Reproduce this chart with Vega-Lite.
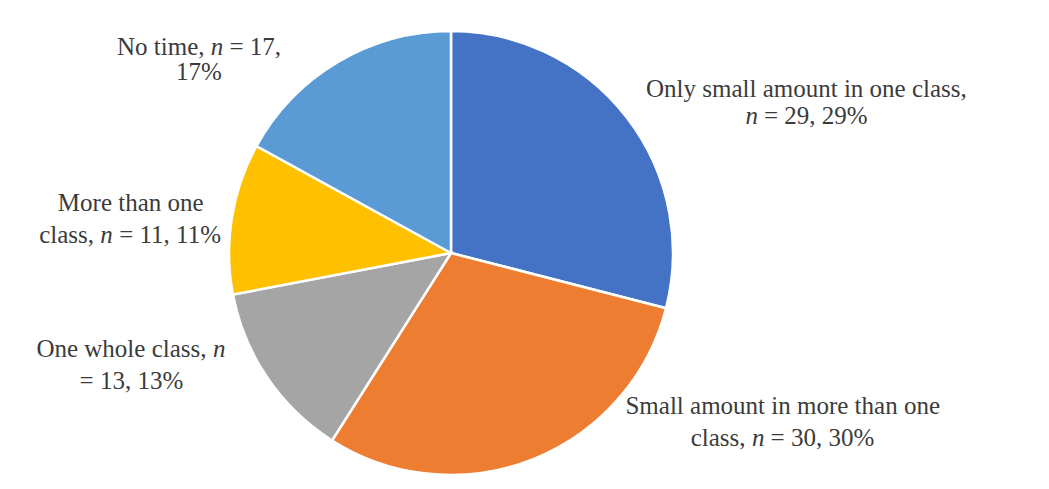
{
  "$schema": "https://vega.github.io/schema/vega-lite/v6.json",
  "width": 902,
  "height": 472,
  "padding": {"left": 0, "top": 17, "right": 147, "bottom": 0},
  "autosize": {"type": "none"},
  "background": "white",
  "config": {
    "view": {"stroke": null},
    "text": {"font": "Liberation Serif", "fontSize": 25, "fill": "#3b3b3b"}
  },
  "data": {
    "values": [
      {"cat": "Only small amount in one class", "n": 29, "ord": 1, "plain": "Only small amount in one class,", "pre": "", "ital": "n", "post": "= 29, 29%"},
      {"cat": "Small amount in more than one class", "n": 30, "ord": 2, "plain": "Small amount in more than one", "pre": "class,", "ital": "n", "post": "= 30, 30%"},
      {"cat": "One whole class", "n": 13, "ord": 3, "plain": "= 13, 13%", "pre": "One whole class,", "ital": "n", "post": ""},
      {"cat": "More than one class", "n": 11, "ord": 4, "plain": "More than one", "pre": "class,", "ital": "n", "post": "= 11, 11%"},
      {"cat": "No time", "n": 17, "ord": 5, "plain": "17%", "pre": "No time,", "ital": "n", "post": "= 17,"}
    ]
  },
  "encoding": {
    "theta": {"field": "n", "type": "quantitative", "stack": true},
    "order": {"field": "ord", "type": "quantitative"}
  },
  "layer": [
    {
      "mark": {"type": "arc", "outerRadius": 222, "stroke": "white", "strokeWidth": 2.5},
      "encoding": {
        "color": {
          "field": "cat", "type": "nominal", "legend": null,
          "scale": {
            "domain": ["Only small amount in one class", "Small amount in more than one class", "One whole class", "More than one class", "No time"],
            "range": ["#4472C4", "#ED7D31", "#A5A5A5", "#FFC000", "#5B9BD5"]
          }
        }
      }
    },
    {"mark": {"type": "text", "radius": 222, "align": "center", "baseline": "alphabetic", "dx": 180, "dy": -20},
     "encoding": {"text": {"condition": {"test": "datum.ord == 1", "field": "plain"}, "value": ""}}},
    {"mark": {"type": "text", "radius": 222, "align": "left", "baseline": "alphabetic", "fontStyle": "italic", "dx": 119, "dy": 7},
     "encoding": {"text": {"condition": {"test": "datum.ord == 1", "field": "ital"}, "value": ""}}},
    {"mark": {"type": "text", "radius": 222, "align": "left", "baseline": "alphabetic", "dx": 137.6, "dy": 7},
     "encoding": {"text": {"condition": {"test": "datum.ord == 1", "field": "post"}, "value": ""}}},

    {"mark": {"type": "text", "radius": 222, "align": "center", "baseline": "alphabetic", "dx": 250, "dy": -45},
     "encoding": {"text": {"condition": {"test": "datum.ord == 2", "field": "plain"}, "value": ""}}},
    {"mark": {"type": "text", "radius": 222, "align": "left", "baseline": "alphabetic", "dx": 158, "dy": -13},
     "encoding": {"text": {"condition": {"test": "datum.ord == 2", "field": "pre"}, "value": ""}}},
    {"mark": {"type": "text", "radius": 222, "align": "left", "baseline": "alphabetic", "fontStyle": "italic", "dx": 219.2, "dy": -13},
     "encoding": {"text": {"condition": {"test": "datum.ord == 2", "field": "ital"}, "value": ""}}},
    {"mark": {"type": "text", "radius": 222, "align": "left", "baseline": "alphabetic", "dx": 237.9, "dy": -13},
     "encoding": {"text": {"condition": {"test": "datum.ord == 2", "field": "post"}, "value": ""}}},

    {"mark": {"type": "text", "radius": 222, "align": "left", "baseline": "alphabetic", "dx": -231, "dy": -21},
     "encoding": {"text": {"condition": {"test": "datum.ord == 3", "field": "pre"}, "value": ""}}},
    {"mark": {"type": "text", "radius": 222, "align": "left", "baseline": "alphabetic", "fontStyle": "italic", "dx": -54.5, "dy": -21},
     "encoding": {"text": {"condition": {"test": "datum.ord == 3", "field": "ital"}, "value": ""}}},
    {"mark": {"type": "text", "radius": 222, "align": "center", "baseline": "alphabetic", "dx": -136, "dy": 11},
     "encoding": {"text": {"condition": {"test": "datum.ord == 3", "field": "plain"}, "value": ""}}},

    {"mark": {"type": "text", "radius": 222, "align": "center", "baseline": "alphabetic", "dx": -101, "dy": -7},
     "encoding": {"text": {"condition": {"test": "datum.ord == 4", "field": "plain"}, "value": ""}}},
    {"mark": {"type": "text", "radius": 222, "align": "left", "baseline": "alphabetic", "dx": -192.5, "dy": 25},
     "encoding": {"text": {"condition": {"test": "datum.ord == 4", "field": "pre"}, "value": ""}}},
    {"mark": {"type": "text", "radius": 222, "align": "left", "baseline": "alphabetic", "fontStyle": "italic", "dx": -131.4, "dy": 25},
     "encoding": {"text": {"condition": {"test": "datum.ord == 4", "field": "ital"}, "value": ""}}},
    {"mark": {"type": "text", "radius": 222, "align": "left", "baseline": "alphabetic", "dx": -112.6, "dy": 25},
     "encoding": {"text": {"condition": {"test": "datum.ord == 4", "field": "post"}, "value": ""}}},

    {"mark": {"type": "text", "radius": 222, "align": "left", "baseline": "alphabetic", "dx": -221, "dy": -7},
     "encoding": {"text": {"condition": {"test": "datum.ord == 5", "field": "pre"}, "value": ""}}},
    {"mark": {"type": "text", "radius": 222, "align": "left", "baseline": "alphabetic", "fontStyle": "italic", "dx": -127.25, "dy": -7},
     "encoding": {"text": {"condition": {"test": "datum.ord == 5", "field": "ital"}, "value": ""}}},
    {"mark": {"type": "text", "radius": 222, "align": "left", "baseline": "alphabetic", "dx": -108.5, "dy": -7},
     "encoding": {"text": {"condition": {"test": "datum.ord == 5", "field": "post"}, "value": ""}}},
    {"mark": {"type": "text", "radius": 222, "align": "center", "baseline": "alphabetic", "dx": -139, "dy": 18},
     "encoding": {"text": {"condition": {"test": "datum.ord == 5", "field": "plain"}, "value": ""}}}
  ]
}
